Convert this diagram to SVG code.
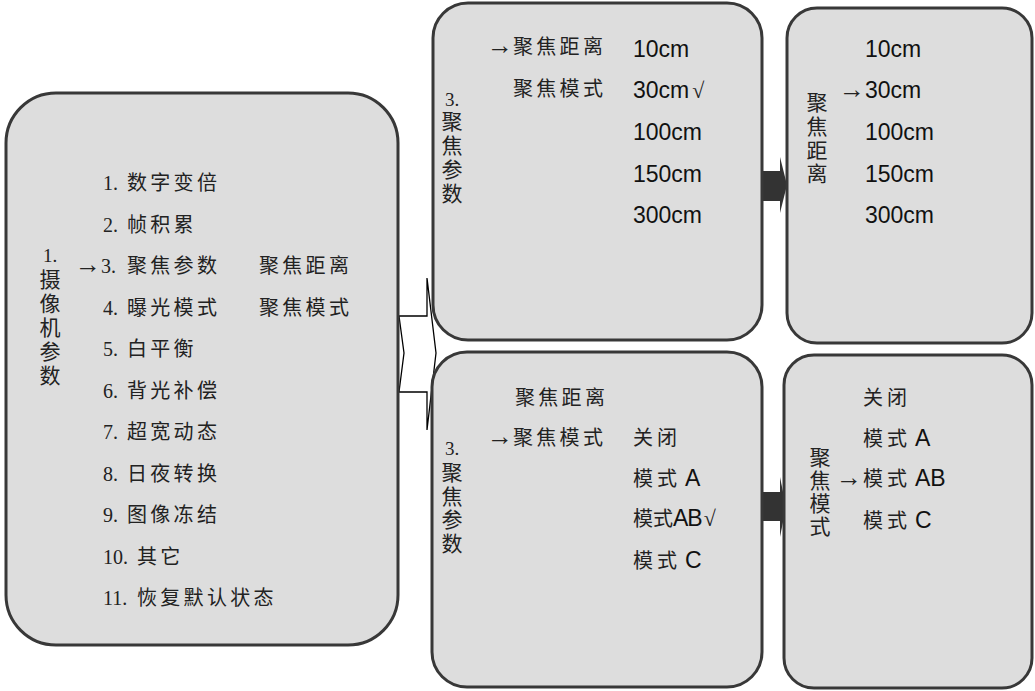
<svg xmlns="http://www.w3.org/2000/svg" width="1035" height="691" viewBox="0 0 1035 691">
<defs>
<style>
.box{fill:#dddddd;stroke:#383838;stroke-width:3}
.cn{font-family:"Liberation Serif","Noto Sans CJK SC",serif;font-size:20px;fill:#222}
.cs{letter-spacing:3.3px}
.vt{font-family:"Liberation Serif","Noto Sans CJK SC",serif;font-size:21px;fill:#222;text-anchor:middle}
.vn{font-family:"Liberation Serif",serif;font-size:19px;fill:#222;text-anchor:middle}
.num{font-family:"Liberation Sans",Arial,sans-serif;font-size:23px;fill:#111}
.ar{font-family:"Liberation Serif","DejaVu Serif",serif;font-size:26px;letter-spacing:0}
.ck{font-family:"Liberation Serif","DejaVu Serif",serif;font-size:22px;fill:#222}
.conn{fill:#fff;stroke:#000;stroke-width:1.3}
.blk{fill:#333;stroke:none}
</style>
</defs>
<rect width="1035" height="691" fill="#fff"/>
<g id="connectors">
<polygon class="conn" points="399,316 427,316 427,278 436,353 427,430 427,392 399,392 404,353"/>
<rect class="blk" x="763" y="171" width="19" height="30"/>
<polygon class="blk" points="780,157 787,185 780,213"/>
<rect class="blk" x="763" y="492" width="19" height="29"/>
<polygon class="blk" points="780,477 786,507 780,537"/>
</g>
<g id="node-camera">
<rect class="box" x="6" y="93" width="392" height="552" rx="50"/>
<text class="vn" x="50" y="262">1.</text>
<text class="vt" x="50" y="287">摄</text>
<text class="vt" x="50" y="311">像</text>
<text class="vt" x="50" y="335">机</text>
<text class="vt" x="50" y="359">参</text>
<text class="vt" x="50" y="383">数</text>
<text class="cn" x="103" y="190">1.<tspan class="cs" x="127">数字变倍</tspan></text>
<text class="cn" x="103" y="231.5">2.<tspan class="cs" x="127">帧积累</tspan></text>
<text class="cn" y="273"><tspan class="ar" x="75">→</tspan><tspan x="101">3.</tspan><tspan class="cs" x="127">聚焦参数</tspan><tspan class="cs" x="259">聚焦距离</tspan></text>
<text class="cn" x="103" y="314.5">4.<tspan class="cs" x="127">曝光模式</tspan><tspan class="cs" x="259">聚焦模式</tspan></text>
<text class="cn" x="103" y="356">5.<tspan class="cs" x="127">白平衡</tspan></text>
<text class="cn" x="103" y="397.5">6.<tspan class="cs" x="127">背光补偿</tspan></text>
<text class="cn" x="103" y="439">7.<tspan class="cs" x="127">超宽动态</tspan></text>
<text class="cn" x="103" y="480.5">8.<tspan class="cs" x="127">日夜转换</tspan></text>
<text class="cn" x="103" y="522">9.<tspan class="cs" x="127">图像冻结</tspan></text>
<text class="cn" x="103" y="563.5">10.<tspan class="cs" x="137">其它</tspan></text>
<text class="cn" x="103" y="605">11.<tspan class="cs" x="137">恢复默认状态</tspan></text>
</g>
<g id="node-focus-distance-menu">
<rect class="box" x="433" y="3" width="329" height="337" rx="35"/>
<text class="vn" x="452" y="106">3.</text>
<text class="vt" x="452" y="129">聚</text>
<text class="vt" x="452" y="153">焦</text>
<text class="vt" x="452" y="177">参</text>
<text class="vt" x="452" y="201">数</text>
<text class="cn" y="54"><tspan class="ar" x="487">→</tspan><tspan class="cs" x="513">聚焦距离</tspan></text>
<text class="cn cs" x="513" y="96">聚焦模式</text>
<text class="num" x="633" y="57">10cm</text>
<text class="num" x="633" y="98">30cm<tspan class="ck" dx="3">√</tspan></text>
<text class="num" x="633" y="140">100cm</text>
<text class="num" x="633" y="182">150cm</text>
<text class="num" x="633" y="223">300cm</text>
</g>
<g id="node-focus-mode-menu">
<rect class="box" x="432" y="352" width="330" height="335" rx="35"/>
<text class="vn" x="452" y="455">3.</text>
<text class="vt" x="452" y="480">聚</text>
<text class="vt" x="452" y="504">焦</text>
<text class="vt" x="452" y="527">参</text>
<text class="vt" x="452" y="551">数</text>
<text class="cn cs" x="515" y="405">聚焦距离</text>
<text class="cn" y="445"><tspan class="ar" x="487">→</tspan><tspan class="cs" x="513">聚焦模式</tspan></text>
<text class="cn" x="633" y="445" style="letter-spacing:4px">关闭</text>
<text class="cn" x="633" y="486" style="letter-spacing:4px">模式<tspan class="num" x="685" style="letter-spacing:0">A</tspan></text>
<text class="cn" x="633" y="526">模式<tspan class="num" style="letter-spacing:-1px">AB</tspan><tspan class="ck" dx="2">√</tspan></text>
<text class="cn" x="633" y="568" style="letter-spacing:4px">模式<tspan class="num" x="685" style="letter-spacing:0">C</tspan></text>
</g>
<g id="node-focus-distance">
<rect class="box" x="787" y="8" width="245" height="335" rx="30"/>
<text class="vt" x="817" y="110">聚</text>
<text class="vt" x="817" y="134">焦</text>
<text class="vt" x="817" y="158">距</text>
<text class="vt" x="817" y="181">离</text>
<text class="num" x="865" y="57">10cm</text>
<text class="num" y="98"><tspan class="ar" x="839" style="fill:#222">→</tspan><tspan x="865">30cm</tspan></text>
<text class="num" x="865" y="140">100cm</text>
<text class="num" x="865" y="182">150cm</text>
<text class="num" x="865" y="223">300cm</text>
</g>
<g id="node-focus-mode">
<rect class="box" x="784" y="355" width="248" height="333" rx="30"/>
<text class="vt" x="820" y="465">聚</text>
<text class="vt" x="820" y="488">焦</text>
<text class="vt" x="820" y="511">模</text>
<text class="vt" x="820" y="534">式</text>
<text class="cn" x="863" y="405" style="letter-spacing:4px">关闭</text>
<text class="cn" x="863" y="446" style="letter-spacing:4px">模式<tspan class="num" x="915" style="letter-spacing:0">A</tspan></text>
<text class="cn" y="486" style="letter-spacing:4px"><tspan class="ar" x="836">→</tspan><tspan x="863">模式</tspan><tspan class="num" x="915" style="letter-spacing:0">AB</tspan></text>
<text class="cn" x="863" y="528" style="letter-spacing:4px">模式<tspan class="num" x="915" style="letter-spacing:0">C</tspan></text>
</g>
</svg>
